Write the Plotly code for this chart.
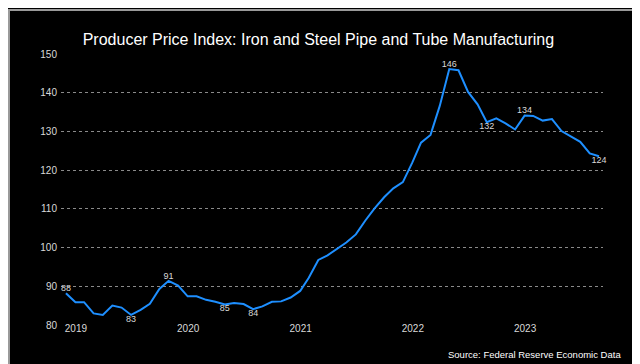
import plotly.graph_objects as go
import pandas as pd

# ---- data (monthly, Jan 2019 – Oct 2023) ----
start_month = "2019-01-01"
values = [
    # 2019
    88.2, 85.9, 85.9, 83.0, 82.6, 85.0, 84.5, 82.6, 83.9, 85.5, 89.3, 91.4,
    # 2020
    90.2, 87.4, 87.4, 86.5, 86.0, 85.3, 85.7, 85.4, 84.1, 84.8, 86.0, 86.1,
    # 2021
    87.1, 88.8, 92.2, 96.8, 98.0, 99.7, 101.3, 103.4, 107.0, 110.1, 113.0, 115.3,
    # 2022
    116.9, 122.0, 127.1, 129.1, 136.6, 146.1, 145.8, 140.2, 137.0, 132.4, 133.4, 132.1,
    # 2023
    130.5, 134.1, 134.0, 132.8, 133.2, 130.1, 128.8, 127.3, 124.3, 123.6,
]
dates = pd.date_range(start_month, periods=len(values), freq="MS")

# labelled points: index -> position
label_idx = [0, 11, 7, 17, 20, 41, 45, 49, 57]
label_pos = ["top center", "top center", "bottom center", "bottom center", "bottom center",
             "top center", "bottom center", "top center", "bottom center"]

year_ticks = ["2019-01-01", "2020-01-01", "2021-01-01", "2022-01-01", "2023-01-01"]
year_text = ["2019", "2020", "2021", "2022", "2023"]
y_ticks = [80, 90, 100, 110, 120, 130, 140, 150]

title_text = "Producer Price Index: Iron and Steel Pipe and Tube Manufacturing"
source_text = "Source: Federal Reserve Economic Data"

FONT = "Liberation Sans, Arial, sans-serif"
LINE = "#1e8fff"
LABEL = "#d9d9d9"

fig = go.Figure()
fig.add_trace(go.Scatter(
    x=dates, y=values, mode="lines",
    line=dict(color=LINE, width=2),
    hoverinfo="skip", showlegend=False,
))
fig.add_trace(go.Scatter(
    x=[dates[i] for i in label_idx],
    y=[values[i] for i in label_idx],
    text=[f"{values[i]:.0f}" for i in label_idx],
    mode="text", textposition=label_pos, cliponaxis=False,
    textfont=dict(family=FONT, size=9, color=LABEL),
    hoverinfo="skip", showlegend=False,
))

fig.update_layout(
    width=640, height=364,
    margin=dict(l=53, r=45, t=46, b=47),
    paper_bgcolor="black", plot_bgcolor="black",
    font=dict(family=FONT, color=LABEL),
    title=dict(text=title_text, x=0.485, xref="container", xanchor="center",
               y=1 - 31 / 364, yref="container", yanchor="middle",
               font=dict(family=FONT, size=16, color="white")),
    xaxis=dict(
        range=["2018-12-16", "2023-10-14"],
        tickvals=year_ticks, ticktext=year_text,
        ticklabelshift=10, ticklabelstandoff=-4,
        ticks="", showgrid=False, zeroline=False,
        showline=False, tickfont=dict(family=FONT, size=10, color=LABEL),
    ),
    yaxis=dict(
        range=[80, 150], tickvals=y_ticks,
        showgrid=True, gridcolor="#8a8a8a", griddash="dot", gridwidth=1,
        zeroline=False, showline=False, ticks="",
        tickfont=dict(family=FONT, size=10, color=LABEL),
        ticklabelstandoff=3,
    ),
    annotations=[dict(
        text=source_text, xref="paper", yref="paper",
        x=(615 - 53) / 542, y=(317 - 346) / 271,
        xanchor="right", yanchor="middle", showarrow=False,
        font=dict(family=FONT, size=9.5, color="white"),
    )],
    shapes=[dict(
        type="rect", xref="paper", yref="paper",
        x0=(1 - 53) / 542, x1=(638 - 53) / 542,
        y0=(317 - 361) / 271, y1=(317 - 2) / 271,
        line=dict(color="#9a9a9a", width=2), layer="below",
    )],
)

fig.write_html("out.html")
